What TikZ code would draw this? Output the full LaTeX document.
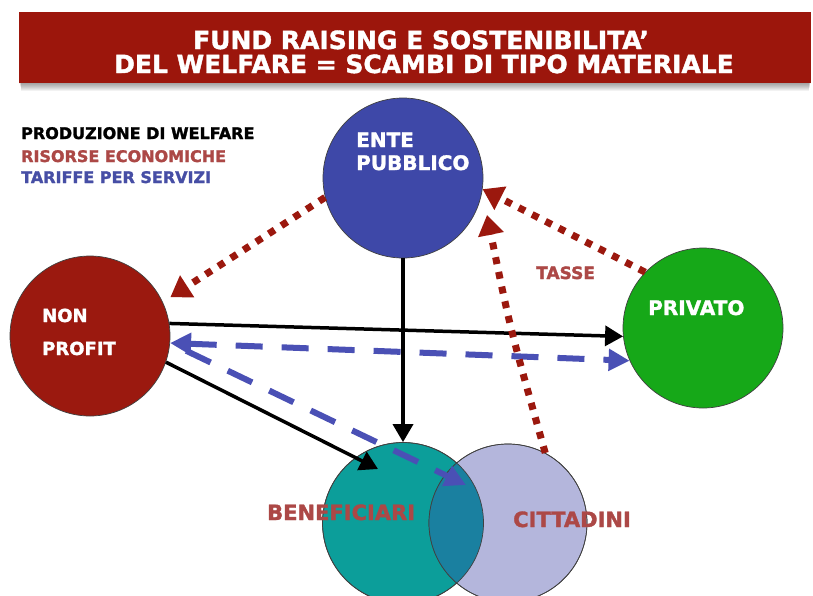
\documentclass[tikz,border=0pt]{standalone}
\usepackage{fontspec}
\setmainfont{DejaVu Sans}[BoldFeatures={FakeBold=1.6}]
\usetikzlibrary{arrows.meta}

\definecolor{banner}{RGB}{156,22,12}
\definecolor{npred}{RGB}{155,25,15}
\definecolor{enteblue}{RGB}{62,72,168}
\definecolor{privgreen}{RGB}{22,168,24}
\definecolor{teal}{RGB}{12,158,154}
\definecolor{lavender}{RGB}{180,182,220}
\definecolor{lens}{RGB}{26,128,160}
\definecolor{blueline}{RGB}{74,80,181}
\definecolor{reddot}{RGB}{155,24,14}
\definecolor{labred}{RGB}{172,72,70}
\definecolor{legblue}{RGB}{70,78,165}

\tikzset{
  bluhead/.tip={Triangle[length=21pt,width=21pt]},
  blkhead/.tip={Triangle[length=18pt,width=20pt]},
  redhead/.tip={Triangle[length=20pt,width=25pt]}
}

\begin{document}
\begin{tikzpicture}[x=1pt,y=1pt,
  circ/.style={circle, draw=black!75, line width=0.7pt, inner sep=0pt},
  wlbl/.style={font=\bfseries\fontsize{#1}{#1}\selectfont, text=white, anchor=base west, inner sep=0pt},
  rlbl/.style={font=\bfseries\fontsize{#1}{#1}\selectfont, text=labred, anchor=base west, inner sep=0pt},
  leg/.style={font=\bfseries\fontsize{16}{16}\selectfont, anchor=base west, inner sep=0pt},
  ttl/.style={font=\bfseries\fontsize{25}{25}\selectfont, text=white, anchor=base, inner sep=0pt},
  blk/.style={draw=black, line width=3.5pt, -blkhead},
  blu/.style={draw=blueline, line width=6pt, dash pattern=on 27pt off 19pt},
  rdot/.style={draw=reddot, line width=7pt, dash pattern=on 7pt off 8pt, -redhead}
]
\useasboundingbox (0,0) rectangle (813,-595);
\fill[white] (0,0) rectangle (813,-595);

% title banner with a soft shadow
\foreach \k in {1,...,8}
  \fill[black, opacity=0.05] (19+\k*0.3,-83-\k) rectangle (811-\k*0.3,-12);
\fill[banner] (19,-12) rectangle (811,-83);
\node[ttl] (tTitle1) at (421,-49) {FUND RAISING E SOSTENIBILITA’};
\node[ttl] (tTitle2) at (424,-73) {DEL WELFARE = SCAMBI DI TIPO MATERIALE};

% legend
\node[leg, text=black]   (lgA) at (21,-139) {PRODUZIONE DI WELFARE};
\node[leg, text=labred]  (lgB) at (21,-162) {RISORSE ECONOMICHE};
\node[leg, text=legblue] (lgC) at (21,-183) {TARIFFE PER SERVIZI};

% actors
\node[circ, fill=enteblue,  minimum size=160pt] (ente)  at (403,-178) {};
\node[circ, fill=npred,     minimum size=160pt] (np)    at (90,-336)  {};
\node[circ, fill=privgreen, minimum size=160pt] (priv)  at (703,-328) {};
\node[circ, fill=teal,      minimum size=161pt] (benef) at (403,-523) {};
\node[circ, fill=lavender,  minimum size=158pt] (cit)   at (508,-523) {};

% overlap of beneficiaries and citizens
\begin{scope}
  \clip (benef.center) circle (80.5pt);
  \fill[lens] (cit.center) circle (79pt);
\end{scope}
\draw[black!75, line width=0.7pt] (benef.center) circle (80.5pt);
\draw[black!75, line width=0.7pt] (cit.center) circle (79pt);

% free ends inside the circles
\coordinate (bTip) at (378,-469);
\coordinate (cTip) at (466,-485);
\coordinate (eTip) at (487,-215);
\coordinate (ctl)  at (510,-328);

% welfare production
\draw[blk] (ente.south) -- (benef.north);
\draw[blk] (np.9) -- (priv.186);
\draw[blk] (np.-19) -- (bTip);

% service fees
\draw[blu, bluhead-bluhead] (np.-5) -- (priv.204);
\draw[blu, -bluhead, shorten <=18pt] (np.-5) -- (cTip);

% economic resources
\draw[rdot, shorten >=9pt] (ente.194) -- (np.25);
\draw[rdot] (priv.136) -- (ente.-8);
\draw[rdot] (cit.62) .. controls (ctl) .. (eTip);

% labels
\node[wlbl=20] (tEnte1) at (356,-147) {ENTE};
\node[wlbl=20] (tEnte2) at (356,-170) {PUBBLICO};
\node[wlbl=18] (tNp1)   at (42,-322)  {NON};
\node[wlbl=18] (tNp2)   at (42,-355)  {PROFIT};
\node[wlbl=20] (tPriv)  at (648,-315) {PRIVATO};
\node[rlbl=17] (tTasse) at (536,-279) {TASSE};
\node[rlbl=21] (tBen)   at (267,-520) {BENEFICIARI};
\node[rlbl=21] (tCit)   at (513,-527) {CITTADINI};
\end{tikzpicture}
\end{document}
